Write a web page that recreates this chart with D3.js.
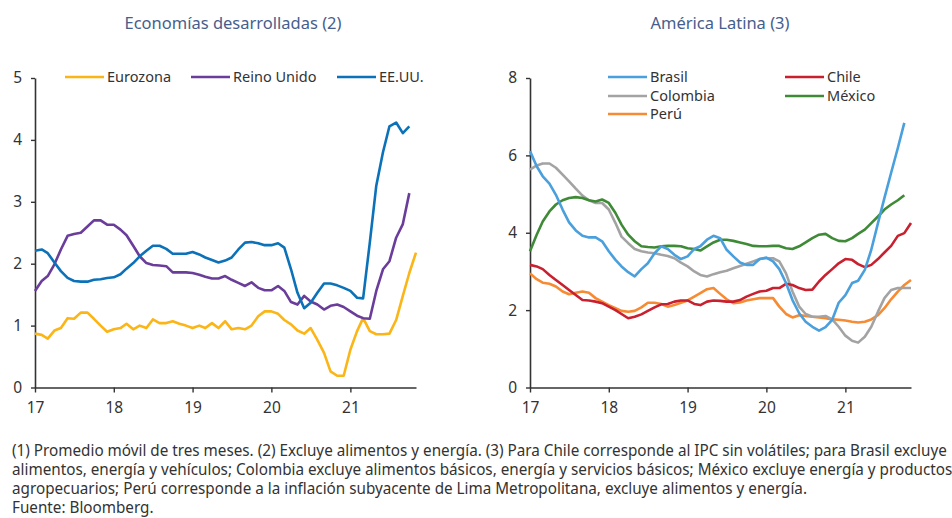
<!DOCTYPE html>
<html>
<head>
<meta charset="utf-8">
<script src="https://cdn.jsdelivr.net/npm/d3@7"></script>
<style>
  body { margin: 0; background: #fff; }
  svg { font-family: "Noto Sans", "Open Sans", sans-serif; }
</style>
</head>
<body>
<svg id="chart" width="952" height="518"></svg>
<script>
// monthly data, Jan 2017 onwards (3-month moving average, %)
let eurozona = [0.87,0.85,0.79,0.92,0.96,1.12,1.11,1.21,1.21,1.11,1.00,0.90,0.94,0.96,1.03,0.94,1.00,0.96,1.10,1.04,1.04,1.07,1.03,1.00,0.96,1.00,0.96,1.04,0.96,1.07,0.94,0.96,0.94,1.00,1.15,1.23,1.23,1.19,1.09,1.02,0.92,0.87,0.96,0.77,0.56,0.26,0.19,0.19,0.61,0.91,1.12,0.91,0.86,0.86,0.87,1.09,1.48,1.85,2.18];
let reinoUnido = [1.56,1.72,1.80,1.99,2.23,2.45,2.48,2.50,2.60,2.70,2.70,2.63,2.63,2.55,2.46,2.29,2.12,2.01,1.98,1.97,1.96,1.86,1.86,1.86,1.85,1.82,1.79,1.76,1.76,1.80,1.74,1.69,1.64,1.70,1.61,1.57,1.57,1.64,1.56,1.38,1.34,1.48,1.39,1.34,1.26,1.32,1.34,1.30,1.23,1.16,1.12,1.11,1.56,1.91,2.04,2.42,2.64,3.14];
let eeuu = [2.21,2.23,2.17,2.02,1.88,1.77,1.72,1.71,1.71,1.74,1.75,1.77,1.78,1.83,1.92,2.01,2.12,2.21,2.29,2.29,2.24,2.16,2.16,2.16,2.19,2.15,2.10,2.06,2.02,2.05,2.10,2.23,2.34,2.35,2.33,2.30,2.30,2.33,2.26,1.91,1.53,1.28,1.37,1.53,1.68,1.68,1.65,1.61,1.56,1.45,1.44,2.34,3.26,3.80,4.22,4.28,4.11,4.22];

let brasil = [6.11,5.72,5.46,5.27,4.98,4.60,4.27,4.06,3.92,3.88,3.88,3.78,3.52,3.30,3.13,2.98,2.87,3.06,3.21,3.47,3.65,3.58,3.43,3.32,3.39,3.58,3.65,3.82,3.92,3.86,3.56,3.39,3.23,3.17,3.17,3.32,3.36,3.26,3.06,2.70,2.26,1.92,1.70,1.57,1.47,1.56,1.75,2.19,2.39,2.70,2.76,3.04,3.56,4.25,4.90,5.55,6.19,6.84];
let chile = [3.17,3.13,3.06,2.91,2.78,2.65,2.52,2.39,2.26,2.25,2.22,2.18,2.09,2.00,1.90,1.79,1.83,1.89,1.98,2.07,2.15,2.16,2.22,2.25,2.25,2.16,2.13,2.22,2.25,2.24,2.22,2.22,2.26,2.35,2.42,2.48,2.50,2.57,2.57,2.68,2.65,2.57,2.52,2.53,2.74,2.91,3.06,3.21,3.32,3.30,3.19,3.11,3.17,3.32,3.49,3.66,3.92,3.99,4.25];
let colombia = [5.63,5.74,5.79,5.79,5.68,5.50,5.33,5.14,4.96,4.84,4.77,4.77,4.60,4.25,3.90,3.73,3.58,3.52,3.49,3.47,3.43,3.40,3.34,3.23,3.13,3.00,2.91,2.87,2.93,2.98,3.02,3.08,3.14,3.20,3.26,3.32,3.34,3.34,3.26,2.95,2.48,2.09,1.90,1.83,1.83,1.85,1.76,1.57,1.34,1.21,1.16,1.31,1.57,1.96,2.31,2.52,2.57,2.57,2.57];
let mexico = [3.52,3.95,4.29,4.55,4.73,4.84,4.90,4.92,4.90,4.84,4.81,4.86,4.77,4.51,4.21,3.95,3.78,3.65,3.63,3.62,3.65,3.66,3.66,3.65,3.60,3.58,3.54,3.65,3.75,3.82,3.82,3.79,3.75,3.71,3.66,3.65,3.65,3.66,3.66,3.60,3.58,3.65,3.75,3.86,3.95,3.97,3.86,3.79,3.78,3.86,3.97,4.08,4.25,4.42,4.60,4.73,4.84,4.97];
let peru = [2.95,2.80,2.71,2.68,2.61,2.48,2.41,2.45,2.48,2.45,2.31,2.22,2.13,2.05,1.98,1.96,1.98,2.07,2.19,2.19,2.16,2.09,2.13,2.19,2.25,2.35,2.44,2.54,2.57,2.42,2.28,2.18,2.20,2.25,2.28,2.31,2.31,2.31,2.09,1.90,1.81,1.87,1.85,1.83,1.81,1.79,1.76,1.75,1.73,1.70,1.68,1.70,1.76,1.87,2.05,2.28,2.48,2.65,2.78];

let leftTicksY = [0, 1, 2, 3, 4, 5],
    rightTicksY = [0, 2, 4, 6, 8],
    yearTicks = ["17", "18", "19", "20", "21"];

let notes = [
  "(1) Promedio móvil de tres meses. (2) Excluye alimentos y energía. (3) Para Chile corresponde al IPC sin volátiles; para Brasil excluye",
  "alimentos, energía y vehículos; Colombia excluye alimentos básicos, energía y servicios básicos; México excluye energía y productos",
  "agropecuarios; Perú corresponde a la inflación subyacente de Lima Metropolitana, excluye alimentos y energía.",
  "Fuente: Bloomberg."
];

let svg = d3.select("#chart");
let start = new Date(2017, 0, 1),
    end = new Date(2021, 10, 1);
let month = i => d3.timeMonth.offset(start, i);
let axisColor = "#333",
    textColor = "#333",
    titleColor = "#465e8c";

function panel(cfg) {
  let g = svg.append("g");
  let x = d3.scaleTime().domain([start, end]).range([cfg.x0, cfg.x1]);
  let y = d3.scaleLinear().domain([0, cfg.yMax]).range([387.5, 78]);

  g.append("text")
    .attr("x", cfg.titleX).attr("y", 29)
    .attr("text-anchor", "middle")
    .attr("font-size", 16.5)
    .attr("fill", titleColor)
    .text(cfg.title);

  // y axis
  let ya = g.append("g")
    .attr("transform", "translate(" + cfg.x0 + ",0)")
    .call(d3.axisLeft(y).tickValues(cfg.yTicks).tickFormat(d3.format("d"))
      .tickSize(4).tickPadding(9).tickSizeOuter(0));
  // x axis
  let xa = g.append("g")
    .attr("transform", "translate(0," + y(0) + ")")
    .call(d3.axisBottom(x)
      .tickValues(yearTicks.map(t => new Date(2000 + +t, 0, 1)))
      .tickFormat(d3.timeFormat("%y"))
      .tickSize(5).tickPadding(9).tickSizeOuter(0));

  [ya, xa].forEach(a => {
    a.select(".domain").attr("stroke", axisColor).attr("stroke-width", 1.6);
    a.selectAll(".tick line").attr("stroke", axisColor).attr("stroke-width", 1.4);
    a.selectAll("text").attr("fill", textColor).attr("font-size", 15.5)
      .attr("font-family", "'Noto Sans', sans-serif");
  });

  let line = d3.line()
    .x((d, i) => x(month(i)))
    .y(d => y(d))
    .curve(d3.curveLinear);

  cfg.series.forEach(s => {
    g.append("path")
      .datum(s.values)
      .attr("fill", "none")
      .attr("stroke", s.color)
      .attr("stroke-width", 2.6)
      .attr("stroke-linejoin", "round")
      .attr("d", line);
  });

  // legend
  cfg.series.forEach(s => {
    let lg = g.append("g").attr("transform", "translate(" + s.lx + "," + s.ly + ")");
    lg.append("line")
      .attr("x1", 0).attr("x2", 39)
      .attr("stroke", s.color).attr("stroke-width", 2.6);
    lg.append("text")
      .attr("x", 42).attr("y", 5)
      .attr("font-size", 14.5)
      .attr("fill", textColor)
      .text(s.name);
  });
}

panel({
  title: "Economías desarrolladas (2)", titleX: 233,
  x0: 35, x1: 416, yMax: 5, yTicks: leftTicksY,
  series: [
    {name: "Eurozona", values: eurozona, color: "#fbb516", lx: 65, ly: 77},
    {name: "Reino Unido", values: reinoUnido, color: "#6a3d9a", lx: 191, ly: 77},
    {name: "EE.UU.", values: eeuu, color: "#0b71b8", lx: 337, ly: 77}
  ]
});

panel({
  title: "América Latina (3)", titleX: 720,
  x0: 530, x1: 911, yMax: 8, yTicks: rightTicksY,
  series: [
    {name: "Perú", values: peru, color: "#f68b33", lx: 608, ly: 114},
    {name: "Colombia", values: colombia, color: "#a3a3a3", lx: 608, ly: 96},
    {name: "México", values: mexico, color: "#3f8a36", lx: 785, ly: 96},
    {name: "Chile", values: chile, color: "#c9202f", lx: 785, ly: 77},
    {name: "Brasil", values: brasil, color: "#4a9fdd", lx: 608, ly: 77}
  ]
});

// footnotes, squeezed so the first line spans the page like the original
let fn = svg.append("g")
  .attr("font-family", "'Liberation Sans Narrow', 'Noto Sans', sans-serif")
  .attr("font-size", 15.5)
  .attr("fill", "#333");
let fnText = fn.selectAll("text")
  .data(notes)
  .enter().append("text")
    .attr("x", 0)
    .attr("y", (d, i) => 456 + i * 19)
    .text(d => d);
let w0 = fnText.node().getComputedTextLength();
let k = 936 / w0;
fn.attr("transform", "translate(12,0) scale(" + k + ",1)");
</script>
</body>
</html>
